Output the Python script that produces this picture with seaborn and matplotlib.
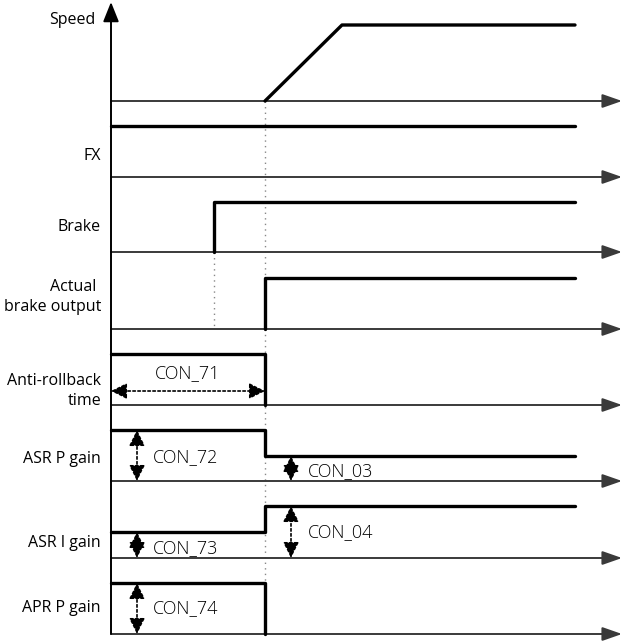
import matplotlib
matplotlib.use("Agg")
import matplotlib.pyplot as plt
import seaborn as sb
import pandas as pd

# Timing diagram data (diagram units: x = time position, h = level above baseline)
row_names = ["Speed", "FX", "Brake", "Actual \nbrake output", "Anti-rollback\ntime",
             "ASR P gain", "ASR I gain", "APR P gain"]
baselines = [101, 177, 252, 329, 405, 481, 558, 634]
label_y = [20, 156, 227, 297, 391, 459, 543, 608]

t_origin = 111
t_brake = 214
t_run = 265
t_ramp = 342
t_end = 575
t_axis = 622

speed_x = [t_run, t_ramp, t_end]
speed_h = [0, 76, 76]
fx_x = [t_origin, t_end]
fx_h = [51, 51]
brake_x = [t_brake, t_brake, t_end]
brake_h = [0, 50, 50]
actual_x = [t_run, t_run, t_end]
actual_h = [0, 51, 51]
rollback_x = [t_origin, t_run, t_run]
rollback_h = [51, 51, 0]
asr_p_x = [t_origin, t_run, t_run, t_end]
asr_p_h = [51, 51, 25, 25]
asr_i_x = [t_origin, t_run, t_run, t_end]
asr_i_h = [26, 26, 52, 52]
apr_p_x = [t_origin, t_run, t_run]
apr_p_h = [51, 51, 0]

signals_x = [speed_x, fx_x, brake_x, actual_x, rollback_x, asr_p_x, asr_i_x, apr_p_x]
signals_h = [speed_h, fx_h, brake_h, actual_h, rollback_h, asr_p_h, asr_i_h, apr_p_h]

# parameter dimension labels
param_names = ["CON_72", "CON_03", "CON_73", "CON_04", "CON_74"]
param_rows = [5, 5, 6, 6, 7]
param_x = [137, 291, 137, 291, 137]
param_top = [51, 25, 26, 52, 51]
param_text_x = [153, 308, 153, 308, 153]
param_text_dy = [24, 10, 10, 26, 26]

sb.set_theme(style="white")
plt.rcParams['font.family'] = ['Open Sans', 'DejaVu Sans']

fig = plt.figure(figsize=(6.22, 6.41), dpi=100)
ax = fig.add_axes([0, 0, 1, 1])

# long-form table of signal vertices
rows = []
for i, (xs, hs) in enumerate(zip(signals_x, signals_h)):
    for k, (x, h) in enumerate(zip(xs, hs)):
        rows.append({"signal": i, "order": k, "x": x, "y": baselines[i] - h})
df = pd.DataFrame(rows)

# dotted guide lines
ax.plot([t_run, t_run], [baselines[0], baselines[-1]], color="#888888", lw=1,
        ls=(0, (1, 3)), zorder=1)
ax.plot([t_brake, t_brake], [baselines[2], baselines[3]], color="#888888", lw=1,
        ls=(0, (1, 3)), zorder=1)

# baselines with arrow heads
for y in baselines:
    ax.annotate("", xy=(t_axis, y), xytext=(t_origin, y),
                arrowprops=dict(arrowstyle="-|>,head_length=1.0,head_width=0.35",
                                color="#3a3a3a", lw=1.4, shrinkA=0, shrinkB=0), zorder=2)

# vertical axis
ax.annotate("", xy=(t_origin, 2), xytext=(t_origin, baselines[-1]),
            arrowprops=dict(arrowstyle="-|>,head_length=1.0,head_width=0.4",
                            color="black", lw=1.4, shrinkA=0, shrinkB=0), zorder=3)

# signals
sb.lineplot(data=df, x="x", y="y", units="signal", estimator=None, sort=False,
            color="black", lw=2.4, ax=ax, zorder=4)
ax.set_xlim(0, 622)
ax.set_ylim(641, 0)
ax.axis("off")

# row labels
for name, y in zip(row_names, label_y):
    right = 95 if name == "Speed" else 101
    ax.text(right, y, name, ha="right", va="center", multialignment="right",
            fontsize=11.5, color="black", linespacing=1.3)

dim_arrow = dict(arrowstyle="<|-|>,head_length=0.8,head_width=0.4",
                 color="black", lw=1.2, ls=(0, (1.5, 1.5)), shrinkA=0, shrinkB=0)

# anti-rollback time dimension
ax.annotate("", xy=(t_run, 391), xytext=(t_origin, 391), arrowprops=dim_arrow)
ax.text(188, 373, "CON_71", ha="center", va="center", fontsize=13,
        fontweight="light", color="black")

# gain dimensions
for name, r, x, top, tx, dy in zip(param_names, param_rows, param_x, param_top,
                                   param_text_x, param_text_dy):
    base = baselines[r]
    ax.annotate("", xy=(x, base - top), xytext=(x, base), arrowprops=dim_arrow)
    ax.text(tx, base - dy, name, ha="left", va="center", fontsize=13,
            fontweight="light", color="black")

fig.savefig("out.png", dpi=100, facecolor="white")
plt.close(fig)
